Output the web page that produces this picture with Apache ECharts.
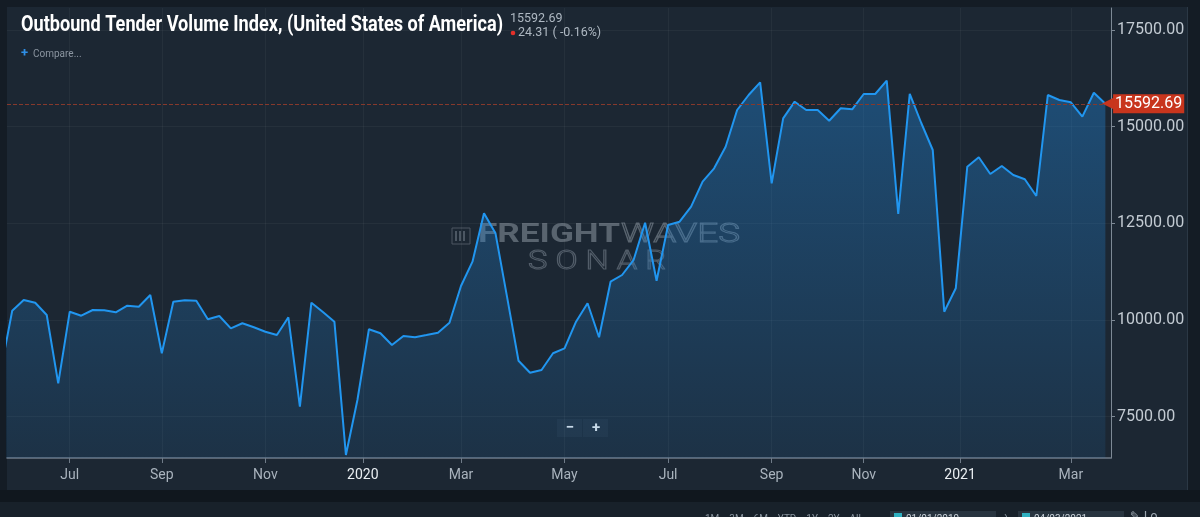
<!DOCTYPE html>
<html>
<head>
<meta charset="utf-8">
<script src="https://cdn.jsdelivr.net/npm/echarts@6/dist/echarts.min.js"></script>
<style>
html,body{margin:0;padding:0;background:#131b23;}
#c{width:1200px;height:517px;}
</style>
</head>
<body>
<div id="c"></div>
<script>
// Weekly Outbound Tender Volume Index readings (one per week, oldest first)
const values = [
  8681, 10240, 10517, 10447, 10129, 8363, 10215, 10111, 10259, 10251,
  10199, 10370, 10344, 10647, 9139, 10473, 10509, 10499, 10018, 10103,
  9785, 9915, 9811, 9697, 9612, 10070, 7758, 10447, 10207, 9956,
  6509, 7931, 9760, 9656, 9353, 9586, 9553, 9612, 9672, 9930,
  10879, 11508, 12760, 12242, 10603, 8947, 8637, 8707, 9139, 9268,
  9956, 10432, 9553, 10991, 11164, 11552, 12516, 11016, 12457, 12542,
  12930, 13577, 13923, 14482, 15431, 15819, 16147, 13535, 15216, 15646,
  15431, 15431, 15154, 15475, 15449, 15845, 15845, 16189, 12741, 15850,
  15095, 14397, 10215, 10820, 13965, 14208, 13776, 13983, 13750, 13639,
  13207, 15819, 15690, 15630, 15258, 15878, 15592.69
];
// x-axis ticks (position in weeks from first reading) and their labels
const tickPositions = [6, 14, 23, 31.47, 40, 49, 58, 67, 75, 83.37, 93];
const tickLabels = ['Jul', 'Sep', 'Nov', '2020', 'Mar', 'May', 'Jul', 'Sep', 'Nov', '2021', 'Mar'];
// y-axis ticks
const yTicks = [7500, 10000, 12500, 15000, 17500];
const lastValue = values[values.length - 1];
const changeText = '24.31 ( -0.16%)';
const titleText = 'Outbound Tender Volume Index, (United States of America)';

const measureCtx = document.createElement('canvas').getContext('2d');
function textWidth(txt, font) { measureCtx.font = font; return measureCtx.measureText(txt).width; }
function fitScale(txt, font, target) { return target / textWidth(txt, font); }

const chart = echarts.init(document.getElementById('c'), null, {renderer: 'canvas'});

const titleFont = 'bold 22px Roboto';
const wmFont1 = 'bold 25px Roboto';
const wmFont2 = '300 25px Roboto';

const option = {
  animation: false,
  backgroundColor: '#1c2733',
  grid: {left: 7, right: 89, top: 8, bottom: 59, containLabel: false},
  xAxis: {
    type: 'value',
    min: 0.547,
    max: 96.49,
    axisLine: {show: true, lineStyle: {color: '#6f7b88', width: 1.5}},
    axisTick: {show: true, customValues: tickPositions, length: 5, lineStyle: {color: '#6f7b88'}},
    axisLabel: {
      customValues: tickPositions,
      margin: 10,
      color: '#a9b3bd',
      fontSize: 14,
      fontFamily: 'Roboto',
      formatter: function (v) {
        let idx = 0, best = 1e9;
        tickPositions.forEach((p, i) => { const d = Math.abs(p - v); if (d < best) { best = d; idx = i; } });
        const lab = tickLabels[idx];
        return /^\d{4}$/.test(lab) ? '{yr|' + lab + '}' : lab;
      },
      rich: {yr: {color: '#e9eef2', fontSize: 14, fontFamily: 'Roboto'}}
    },
    splitLine: {show: true, lineStyle: {color: 'rgba(255,255,255,0.045)', width: 1}}
  },
  yAxis: {
    type: 'value',
    position: 'right',
    min: 6431,
    max: 18069,
    axisLine: {show: true, lineStyle: {color: '#7d8995', width: 1}},
    axisTick: {show: true, customValues: yTicks, length: 4, lineStyle: {color: '#7d8995'}},
    axisLabel: {
      customValues: yTicks,
      margin: 6,
      color: '#c3cbd3',
      fontSize: 16,
      fontFamily: 'Roboto',
      formatter: v => v.toFixed(2)
    },
    splitLine: {show: true, lineStyle: {color: 'rgba(255,255,255,0.045)', width: 1}}
  },
  series: [{
    type: 'line',
    data: values.map((v, i) => [i, v]),
    symbol: 'none',
    clip: false,
    z: 2,
    lineStyle: {color: '#2196f0', width: 2},
    areaStyle: {
      color: new echarts.graphic.LinearGradient(0, 0, 0, 1, [
        {offset: 0, color: 'rgba(33,130,210,0.6)'},
        {offset: 1, color: 'rgba(33,130,210,0.17)'}
      ])
    },
    markLine: {
      silent: true,
      symbol: 'none',
      animation: false,
      lineStyle: {type: 'dashed', color: '#86392c', width: 1},
      label: {
        show: true,
        position: 'end',
        distance: -9,
        formatter: p => '{arrow|◀}{box|' + p.value.toFixed(2) + '}',
        rich: {
          arrow: {color: '#c8351d', fontSize: 17, fontFamily: 'DejaVu Sans', padding: [0, -2, 0, 0]},
          box: {backgroundColor: '#c8351d', color: '#ffffff', fontSize: 16, fontFamily: 'Roboto',
                padding: [2, 2, 1, 2], lineHeight: 20}
        }
      },
      data: [{yAxis: lastValue}]
    }
  }],
  graphic: [
    // watermark (behind the series)
    {type: 'group', z: 0, silent: true, children: [
      {type: 'rect', shape: {x: 452, y: 228, width: 18, height: 16}, style: {fill: 'rgba(0,0,0,0)', stroke: '#4c5763', lineWidth: 1}},
      {type: 'rect', shape: {x: 455, y: 231, width: 2, height: 10}, style: {fill: '#4c5763'}},
      {type: 'rect', shape: {x: 459, y: 231, width: 2, height: 10}, style: {fill: '#4c5763'}},
      {type: 'rect', shape: {x: 463, y: 231, width: 2, height: 10}, style: {fill: '#4c5763'}},
      {type: 'text', x: 478, y: 236, scaleX: fitScale('FREIGHT', wmFont1, 142),
        style: {text: 'FREIGHT', font: wmFont1, fill: '#59646f', textVerticalAlign: 'middle'}},
      {type: 'text', x: 621, y: 236, scaleX: fitScale('WAVES', wmFont2, 119),
        style: {text: 'WAVES', font: wmFont2, fill: 'rgba(0,0,0,0)', stroke: '#59646f', lineWidth: 1, textVerticalAlign: 'middle'}},
      {type: 'text', x: 528, y: 263, scaleX: fitScale('S O N A R', wmFont2, 138),
        style: {text: 'S O N A R', font: wmFont2, fill: 'rgba(0,0,0,0)', stroke: '#525d69', lineWidth: 1, textVerticalAlign: 'middle'}}
    ]},
    // outer frame strips
    {type: 'group', z: 100, silent: true, children: [
      {type: 'rect', shape: {x: 0, y: 0, width: 1200, height: 7}, style: {fill: '#141c25'}},
      {type: 'rect', shape: {x: 0, y: 0, width: 7, height: 517}, style: {fill: '#141c25'}},
      {type: 'rect', shape: {x: 1188, y: 0, width: 12, height: 517}, style: {fill: '#141c25'}},
      {type: 'rect', shape: {x: 1187, y: 7, width: 1, height: 483}, style: {fill: '#2b3845'}},
      {type: 'rect', shape: {x: 0, y: 490, width: 1200, height: 27}, style: {fill: '#10171e'}},
      {type: 'rect', shape: {x: 0, y: 502, width: 1200, height: 15}, style: {fill: '#18212a'}},
      // bottom toolbar (cut off by the window)
      {type: 'text', x: 705, y: 519, style: {text: '1M    3M    6M    YTD    1Y    2Y    All', font: '10px Roboto', fill: '#8a949e', textVerticalAlign: 'middle'}},
      {type: 'rect', shape: {x: 890, y: 511, width: 106, height: 10}, style: {fill: '#28343f'}},
      {type: 'rect', shape: {x: 894, y: 513, width: 8, height: 6}, style: {fill: '#2fb0c0'}},
      {type: 'text', x: 906, y: 519, style: {text: '01/01/2019', font: '10px Roboto', fill: '#c9d1d8', textVerticalAlign: 'middle'}},
      {type: 'text', x: 1004, y: 517, style: {text: '›', font: '12px Roboto', fill: '#8a949e', textVerticalAlign: 'middle'}},
      {type: 'rect', shape: {x: 1018, y: 511, width: 106, height: 10}, style: {fill: '#28343f'}},
      {type: 'rect', shape: {x: 1022, y: 513, width: 8, height: 6}, style: {fill: '#2fb0c0'}},
      {type: 'text', x: 1034, y: 519, style: {text: '04/03/2021', font: '10px Roboto', fill: '#c9d1d8', textVerticalAlign: 'middle'}},
      {type: 'text', x: 1130, y: 517, style: {text: '✎ Lo', font: '12px DejaVu Sans', fill: '#9aa4ae', textVerticalAlign: 'middle'}}
    ]},
    // title and header
    {type: 'group', z: 101, silent: true, children: [
      {type: 'text', x: 21, y: 25, scaleX: fitScale(titleText, titleFont, 482),
        style: {text: titleText, font: titleFont, fill: '#ffffff', textVerticalAlign: 'middle'}},
      {type: 'text', x: 510, y: 19, style: {text: lastValue.toFixed(2), font: '12.5px Roboto', fill: '#aeb8c2', textVerticalAlign: 'middle'}},
      {type: 'circle', shape: {cx: 513, cy: 33, r: 2.3}, style: {fill: '#e3302a'}},
      {type: 'text', x: 518, y: 33, style: {text: changeText, font: '12.5px Roboto', fill: '#aeb8c2', textVerticalAlign: 'middle'}},
      {type: 'text', x: 21, y: 54, style: {text: '+', font: 'bold 13px Roboto', fill: '#2f8fe6', textVerticalAlign: 'middle'}},
      {type: 'text', x: 33, y: 54, style: {text: 'Compare...', font: '10px Roboto', fill: '#8b95a0', textVerticalAlign: 'middle'}}
    ]},
    // zoom buttons
    {type: 'group', z: 101, silent: true, children: [
      {type: 'rect', shape: {x: 557, y: 419, width: 25, height: 18}, style: {fill: '#222e3b'}},
      {type: 'rect', shape: {x: 583, y: 419, width: 25, height: 18}, style: {fill: '#222e3b'}},
      {type: 'text', x: 570, y: 428, style: {text: '−', font: 'bold 15px Roboto', fill: '#e3e8ec', textAlign: 'center', textVerticalAlign: 'middle'}},
      {type: 'text', x: 596, y: 428, style: {text: '+', font: 'bold 15px Roboto', fill: '#e3e8ec', textAlign: 'center', textVerticalAlign: 'middle'}}
    ]}
  ]
};
chart.setOption(option);
</script>
</body>
</html>
